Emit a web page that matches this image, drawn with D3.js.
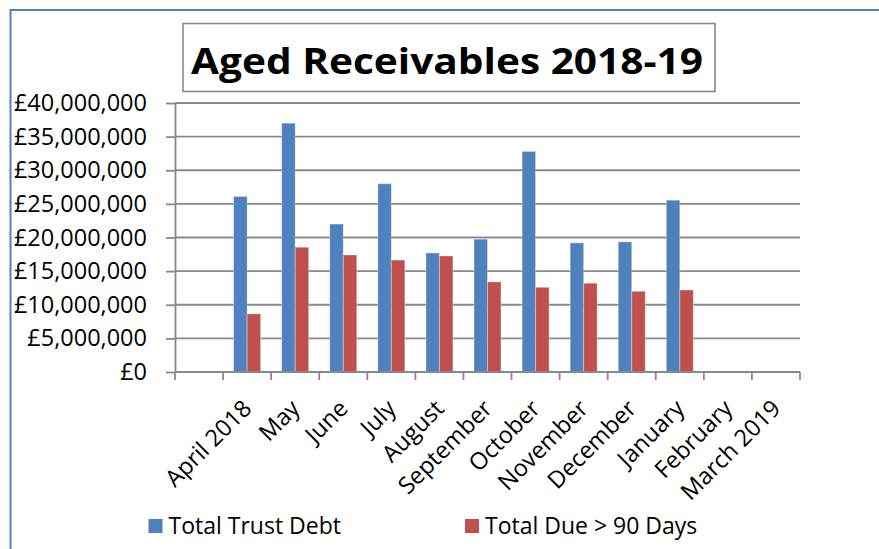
<!DOCTYPE html>
<html>
<head>
<meta charset="utf-8">
<style>
  body { margin: 0; background: #fff; }
  svg { display: block; font-family: "Open Sans", sans-serif; }
  .grid line { stroke: #898989; stroke-width: 1.8px; }
  .axis path, .axis line { stroke: #898989; stroke-width: 1.8px; }
  .axis text { fill: #000; font-size: 23.5px; font-family: "Open Sans", sans-serif; }
</style>
</head>
<body>
<script src="https://cdn.jsdelivr.net/npm/d3@7"></script>
<script>

    var months = ["", "April 2018", "May", "June", "July", "August", "September",
        "October", "November", "December", "January", "February", "March 2019"];
    var series = ["Total Trust Debt", "Total Due > 90 Days"];
    var totalDebt = [null, 26100000, 37000000, 22000000, 28000000, 17700000, 19750000,
        32800000, 19200000, 19350000, 25550000, null, null];
    var dueOver90 = [null, 8650000, 18550000, 17400000, 16650000, 17250000, 13400000,
        12600000, 13200000, 12000000, 12200000, null, null];
    var yTicks = [0, 5000000, 10000000, 15000000, 20000000, 25000000, 30000000, 35000000, 40000000];
    var colors = ["#4F81BD", "#C0504D"];

    var width = 879, height = 549;
    var plot = {left: 175, right: 800, top: 103, bottom: 372};

    var svg = d3.select("body").append("svg")
        .attr("width", width)
        .attr("height", height);

    svg.append("rect")
        .attr("width", width).attr("height", height)
        .attr("fill", "#fff");

    // outer chart border (runs off the right and bottom of the picture)
    svg.append("rect")
        .attr("x", 10.5).attr("y", 10)
        .attr("width", width + 20).attr("height", height + 20)
        .attr("fill", "none")
        .attr("stroke", "#4F81BD")
        .attr("stroke-width", 2);

    // title box
    svg.append("rect")
        .attr("x", 183).attr("y", 23.5)
        .attr("width", 532).attr("height", 68)
        .attr("fill", "#fff")
        .attr("stroke", "#8a8a8a")
        .attr("stroke-width", 1.6);

    svg.append("text")
        .attr("x", 191).attr("y", 73.5)
        .attr("font-size", 35)
        .attr("font-weight", "bold")
        .attr("textLength", 512)
        .attr("lengthAdjust", "spacingAndGlyphs")
        .text("Aged Receivables 2018-19");

    var x0 = d3.scaleBand()
        .domain(months)
        .range([plot.left, plot.right]);

    var barW = 13.5;
    var x1 = d3.scaleBand()
        .domain(series)
        .range([x0.bandwidth() / 2 - barW, x0.bandwidth() / 2 + barW]);

    var y = d3.scaleLinear()
        .domain([0, 40000000])
        .range([plot.bottom, plot.top]);

    // gridlines
    svg.append("g").attr("class", "grid")
        .selectAll("line")
        .data(yTicks.slice(1))
        .enter().append("line")
        .attr("x1", plot.left).attr("x2", plot.right)
        .attr("y1", function (d) { return y(d); })
        .attr("y2", function (d) { return y(d); });

    // bars
    var rows = months.map(function (m, i) {
        return {month: m, values: [totalDebt[i], dueOver90[i]]};
    });

    svg.append("g")
        .selectAll("g")
        .data(rows)
        .enter().append("g")
        .attr("transform", function (d) { return "translate(" + x0(d.month) + ",0)"; })
        .selectAll("rect")
        .data(function (d) {
            return d.values.map(function (v, j) { return {key: series[j], value: v, j: j}; })
                .filter(function (e) { return e.value != null; });
        })
        .enter().append("rect")
        .attr("x", function (d) { return x1(d.key); })
        .attr("width", x1.bandwidth())
        .attr("y", function (d) { return y(d.value); })
        .attr("height", function (d) { return y(0) - y(d.value); })
        .attr("fill", function (d) { return colors[d.j]; })
        .attr("stroke", "rgba(255,255,255,0.35)")
        .attr("stroke-width", 1);

    // y axis
    var yAxis = svg.append("g").attr("class", "axis")
        .attr("transform", "translate(" + plot.left + ",0)")
        .call(d3.axisLeft(y)
            .tickValues(yTicks)
            .tickSize(9)
            .tickPadding(19)
            .tickSizeOuter(0)
            .tickFormat(function (d) { return "£" + d3.format(",")(d); }));
    yAxis.attr("font-size", null).attr("font-family", null);

    // x axis: baseline and boundary ticks
    var xg = svg.append("g").attr("class", "axis");
    xg.append("line")
        .attr("x1", plot.left).attr("x2", plot.right)
        .attr("y1", plot.bottom).attr("y2", plot.bottom);
    var bounds = months.map(function (m) { return x0(m); }).concat([plot.right]);
    xg.selectAll("line.tick")
        .data(bounds)
        .enter().append("line")
        .attr("class", "tick")
        .attr("x1", function (d) { return d; }).attr("x2", function (d) { return d; })
        .attr("y1", plot.bottom).attr("y2", plot.bottom + 8);

    // x labels
    var xAxis = svg.append("g").attr("class", "axis")
        .attr("transform", "translate(0," + plot.bottom + ")")
        .call(d3.axisBottom(x0).tickSize(0));
    xAxis.attr("font-size", null).attr("font-family", null);
    xAxis.select(".domain").remove();
    xAxis.selectAll("text")
        .attr("x", 0).attr("y", 0).attr("dy", 0)
        .attr("text-anchor", "end")
        .attr("transform", "translate(6,38) rotate(-45)");

    // legend
    var legendX = [148.5, 465];
    var legend = svg.append("g")
        .selectAll("g")
        .data(series)
        .enter().append("g")
        .attr("transform", function (d, i) { return "translate(" + legendX[i] + ",519)"; });
    legend.append("rect")
        .attr("width", 14).attr("height", 14)
        .attr("fill", function (d, i) { return colors[i]; });
    legend.append("text")
        .attr("x", 20).attr("y", 15)
        .attr("font-size", 23)
        .text(function (d) { return d; });

</script>
</body>
</html>
